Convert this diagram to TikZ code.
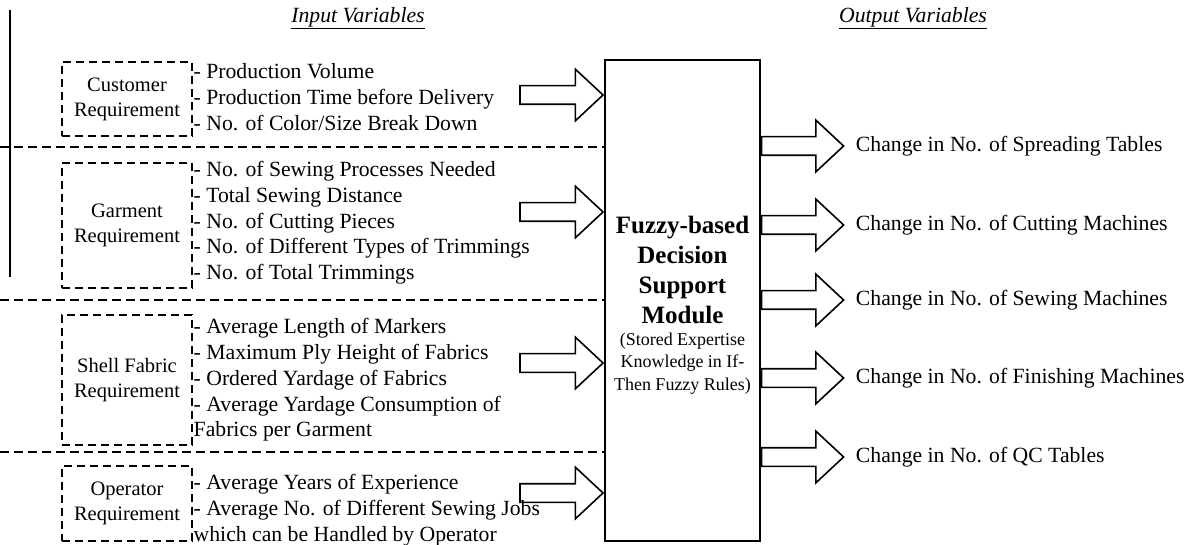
\documentclass[tikz,border=0pt]{standalone}
\usepackage{fontspec}
\setmainfont{Liberation Serif}
\usetikzlibrary{shapes,arrows,positioning}

\begin{document}
\begin{tikzpicture}[x=1pt, y=-1pt,
    reqbox/.style={draw, dash pattern=on 8pt off 5pt, line width=1.5pt, minimum width=130pt, align=center, inner sep=0pt, font=\fontsize{20.5}{25}\selectfont},
    itemlist/.style={anchor=west, align=left, inner sep=0pt, font=\fontsize{21.7}{25.7}\selectfont},
    inarrow/.style={single arrow, draw, line width=1.6pt, minimum height=83pt, minimum width=50pt, single arrow head extend=16.5pt, single arrow tip angle=86, inner xsep=0pt, inner ysep=8.5pt, anchor=tip},
    outarrow/.style={inarrow, minimum height=82pt, anchor=tail},
    outlabel/.style={inner sep=0pt, font=\fontsize{21.7}{25.7}\selectfont},
    sepline/.style={dash pattern=on 9pt off 5pt, line width=1.5pt},
    heading/.style={inner sep=0pt, font=\fontsize{21.7}{26}\selectfont\itshape}]
            \useasboundingbox (0,0) rectangle (1189,545);

            % Headings
            \node[heading] (intitle) at (358,18) {\underline{Input Variables}};
            \node[heading] (outtitle) at (913,18) {\underline{Output Variables}};

            % Decision support module
            \node[draw, line width=1.6pt, minimum width=155pt, minimum height=481pt, inner sep=0pt] (fdsm) at (682.5,300.5) {};
            \node[font=\fontsize{25}{30.3}\selectfont\bfseries, align=center, inner sep=0pt] (fdsmname) at (682.5,270) {Fuzzy-based\\Decision\\Support\\Module};
            \node[font=\fontsize{18}{22.5}\selectfont, align=center, inner sep=0pt, below=8pt of fdsmname] (fdsmnote) {(Stored Expertise\\Knowledge in If-\\Then Fuzzy Rules)};

            % Left margin rule and separators
            \draw[line width=1.2pt] (10,10) -- (10,277);
            \foreach \y in {147,300,452}
                \draw[sepline] (0,\y) -- (fdsm.west |- 0,\y);

            % Requirement groups
            \node[reqbox, minimum height=74pt] (custbox) at (127,99) {Customer\\Requirement};
            \node[itemlist] (custitems) at (193.5,97) {- Production Volume\\- Production Time before Delivery\\- No. of Color/Size Break Down};

            \node[reqbox, minimum height=125pt] (garmbox) at (127,225.5) {Garment\\Requirement};
            \node[itemlist] (garmitems) at (193.5,223) {- No. of Sewing Processes Needed\\- Total Sewing Distance\\- No. of Cutting Pieces\\- No. of Different Types of Trimmings\\- No. of Total Trimmings};

            \node[reqbox, minimum height=130pt] (shellbox) at (127,380) {Shell Fabric\\Requirement};
            \node[itemlist] (shellitems) at (193.5,380) {- Average Length of Markers\\- Maximum Ply Height of Fabrics\\- Ordered Yardage of Fabrics\\- Average Yardage Consumption of\\Fabrics per Garment};

            \node[reqbox, minimum height=75pt] (operbox) at (127,503.5) {Operator\\Requirement};
            \node[itemlist] (operitems) at (193.5,510) {- Average Years of Experience\\- Average No. of Different Sewing Jobs\\which can be Handled by Operator};

            % Input arrows
            \foreach \y [count=\i] in {95,212,363,493}
                \node[inarrow] (inarr\i) at (fdsm.west |- 0,\y) {};

            % Output arrows and variables
            \foreach \y/\txt [count=\i] in {146/Spreading Tables, 225/Cutting Machines, 300/Sewing Machines, 378/Finishing Machines, 457/QC Tables} {
                \node[outarrow] (outarr\i) at (fdsm.east |- 0,\y) {};
                \node[outlabel, right=11pt of outarr\i.tip] (outvar\i) {Change in No. of \txt};
            }
      \end{tikzpicture}
\end{document}
